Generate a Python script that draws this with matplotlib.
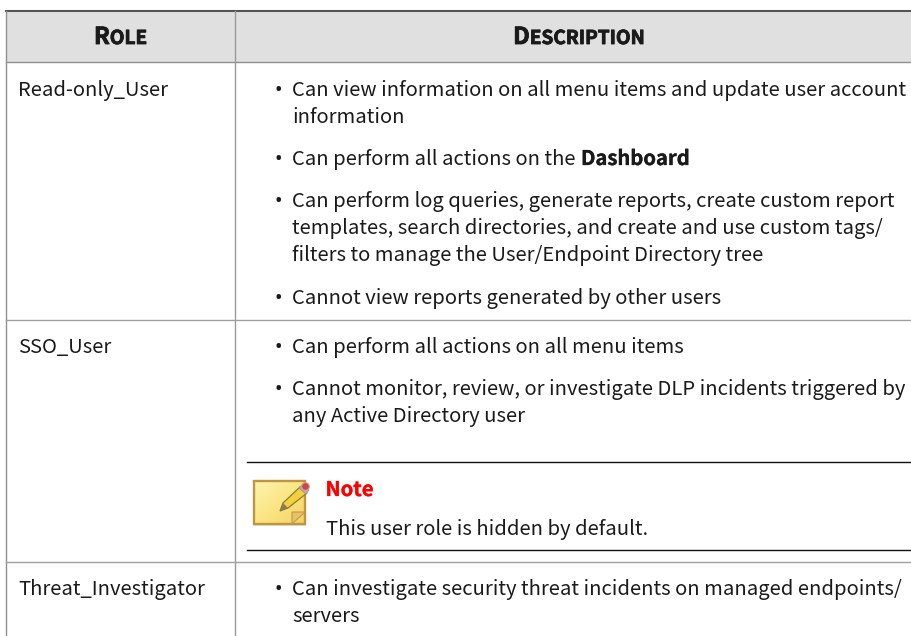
"""Role / description table page, drawn in pixel coordinates."""

import matplotlib
matplotlib.use("Agg")
import matplotlib.pyplot as plt
import matplotlib.patheffects as pe
from matplotlib.colors import LinearSegmentedColormap
from matplotlib.patches import Polygon, Rectangle, Circle
import numpy as np

FONT = ["Noto Sans CJK SC", "DejaVu Sans"]
INK = "#1a1a1a"

# --- table content ----------------------------------------------------------
roles = ["Read-only_User", "SSO_User", "Threat_Investigator"]
role_baselines = [96, 353, 595]

bullet_lines = [
    (True, "Can view information on all menu items and update user account", 96),
    (False, "information", 123),
    (True, "Can perform log queries, generate reports, create custom report", 207),
    (False, "templates, search directories, and create and use custom tags/", 234),
    (False, "filters to manage the User/Endpoint Directory tree", 261),
    (True, "Cannot view reports generated by other users", 304),
    (True, "Can perform all actions on all menu items", 353),
    (True, "Cannot monitor, review, or investigate DLP incidents triggered by", 395),
    (False, "any Active Directory user", 422),
    (True, "Can investigate security threat incidents on managed endpoints/", 595),
    (False, "servers", 622),
]

fig = plt.figure(figsize=(9.11, 6.36), dpi=100)
ax = fig.add_axes([0, 0, 1, 1])
ax.axis("off")

# --- table frame ------------------------------------------------------------
ax.add_patch(Rectangle((6, 11), 905, 51, fc="#e0e0e0", ec="none"))
ax.plot([6, 911], [11, 11], color="#555555", lw=1.5)
ax.plot([6, 911], [62, 62], color="#8f8f8f", lw=1.0)
ax.plot([6, 6], [11, 636], color="#8f8f8f", lw=1.0)
ax.plot([235, 235], [11, 636], color="#9a9a9a", lw=1.0)
for y in [320, 562]:
    ax.plot([6, 911], [y, y], color="#a0a0a0", lw=1.0)


def small_caps(x_center, y, word):
    # first letter big, the rest smaller, centred as one word
    r = fig.canvas.get_renderer()
    heavy = [pe.withStroke(linewidth=0.6, foreground=INK)]
    first = ax.text(0, y, word[0], family=FONT, weight="bold", fontsize=16.8,
                    color=INK, path_effects=heavy)
    rest = ax.text(0, y, word[1:].upper(), family=FONT, weight="bold", fontsize=13.7,
                   color=INK, path_effects=heavy)
    w1 = first.get_window_extent(r).width
    w2 = rest.get_window_extent(r).width
    first.set_x(x_center - (w1 + w2) / 2)
    rest.set_x(x_center - (w1 + w2) / 2 + w1)


ax.set_xlim(0, 911)
ax.set_ylim(636, 0)

small_caps(120.5, 44, "Role")
small_caps(579, 44, "Description")

# --- body text --------------------------------------------------------------
BODY = 14.55
bold_edge = [pe.withStroke(linewidth=0.2, foreground=INK)]
for role, y in zip(roles, role_baselines):
    ax.text(18, y, role, family=FONT, fontsize=BODY, color=INK)

for has_bullet, line, y in bullet_lines:
    if has_bullet:
        ax.text(274, y, "•", family="Noto Sans", fontsize=BODY, color=INK)
    ax.text(292, y, line, family=FONT, fontsize=BODY, color=INK)

# the one line with a bold word in it
ax.text(274, 165, "•", family="Noto Sans", fontsize=BODY, color=INK)
ax.text(292, 165, "Can perform all actions on the", family=FONT, fontsize=BODY, color=INK)
ax.text(581, 165, "Dashboard", family=FONT, fontsize=BODY, weight="bold", color=INK,
        path_effects=bold_edge)

# --- note box ---------------------------------------------------------------
ax.plot([247, 911], [462, 462], color="#111111", lw=1.0)
ax.plot([247, 911], [550, 550], color="#111111", lw=1.0)
ax.text(325.5, 496, "Note", family=FONT, fontsize=BODY, weight="bold", color="#ff0000",
        path_effects=[pe.withStroke(linewidth=0.2, foreground="#ff0000")])
ax.text(326, 535, "This user role is hidden by default.", family=FONT, fontsize=BODY, color=INK)

# sticky note icon
ax.add_patch(Rectangle((254, 483), 52, 43, fc="#d8d0b8", ec="none", alpha=0.6))
grad = np.linspace(0, 1, 32).reshape(-1, 1) + np.linspace(0, 1, 32).reshape(1, -1)
note_cmap = LinearSegmentedColormap.from_list("note", ["#fdf3b0", "#fbe685", "#f5d263"])
ax.imshow(grad / 2, extent=(254, 305, 524, 481), cmap=note_cmap, aspect="auto", zorder=2)
ax.add_patch(Rectangle((254, 481), 51, 43, fc="none", ec="#bf963f", lw=1.7, zorder=3))
ax.add_patch(Polygon([(292, 524), (305, 512), (292, 512)], fc="#e6c26a", ec="#c49a45", lw=0.8, zorder=3))
ax.add_patch(Polygon([(280, 511), (283, 503), (300, 487), (307, 493), (288, 508)],
                     fc="#f2d13e", ec="#8f7a35", lw=0.9, zorder=4))
ax.add_patch(Polygon([(280, 511), (283, 503), (288, 508)], fc="#8a7a55", ec="none", zorder=5))
ax.add_patch(Polygon([(299, 488), (303, 484), (309, 490), (306, 494)], fc="#b5b5b5", ec="#8a8a8a", lw=0.5, zorder=5))
ax.add_patch(Circle((305.5, 486.5), 3.8, fc="#d8423f", ec="#c9a0a0", lw=0.8, zorder=6))

ax.set_xlim(0, 911)
ax.set_ylim(636, 0)
fig.savefig("out.png", dpi=100)
